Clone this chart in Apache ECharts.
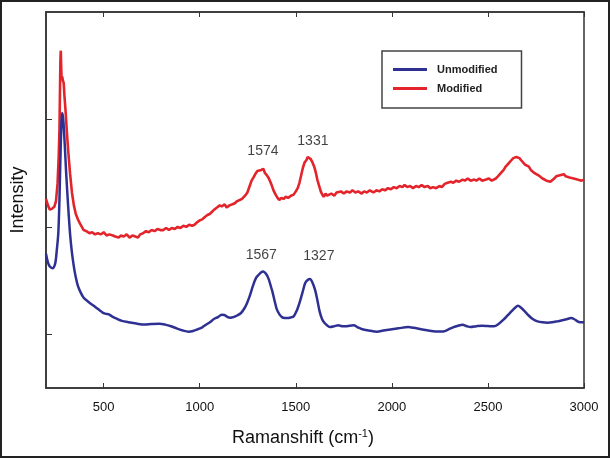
<!DOCTYPE html>
<html>
<head>
<meta charset="utf-8">
<script src="https://cdn.jsdelivr.net/npm/echarts@6/dist/echarts.min.js"></script>
<style>
html,body{margin:0;padding:0;background:#fff;}
#chart{width:610px;height:458px;}
</style>
</head>
<body>
<div id="chart"></div>
<script>
// ---- data (Raman shift in cm^-1, intensity in arbitrary units) ----
const xTicks = [500, 1000, 1500, 2000, 2500, 3000];
const yTicks = [0.5, 1.5, 2.5];
const seriesNames = ['Unmodified', 'Modified'];

const unmodified = [
[200,1.25],[210,1.17],[220,1.13],[234,1.115],[248,1.16],[256,1.28],[264,1.44],[270,1.75],[274,2.06],[279,2.40],
[283,2.56],[287,2.54],[291,2.47],[298,2.25],[305,2.00],[315,1.70],[325,1.44],[335,1.26],[345,1.13],[355,1.03],
[366,0.95],[380,0.89],[396,0.84],[415,0.81],[437,0.78],[452,0.76],[467,0.74],[482,0.72],[497,0.70],[512,0.69],
[527,0.685],[545,0.665],[568,0.645],[595,0.625],[629,0.612],[670,0.60],[710,0.59],[750,0.595],[790,0.598],[820,0.59],
[851,0.575],[880,0.555],[912,0.535],[942,0.524],[965,0.53],[993,0.549],[1013,0.565],[1033,0.589],[1055,0.615],[1074,0.642],
[1095,0.66],[1114,0.682],[1128,0.68],[1145,0.66],[1160,0.655],[1175,0.66],[1195,0.675],[1215,0.698],[1232,0.74],[1246,0.79],
[1261,0.86],[1276,0.946],[1292,1.02],[1307,1.054],[1320,1.078],[1331,1.085],[1344,1.065],[1357,1.023],[1368,0.96],[1378,0.899],
[1390,0.81],[1402,0.729],[1415,0.685],[1428,0.66],[1443,0.652],[1458,0.651],[1474,0.657],[1489,0.667],[1505,0.72],[1519,0.79],
[1535,0.89],[1549,0.977],[1562,1.005],[1574,1.014],[1587,0.98],[1600,0.915],[1612,0.82],[1624,0.713],[1637,0.64],[1650,0.605],
[1665,0.58],[1680,0.567],[1700,0.575],[1721,0.583],[1740,0.575],[1761,0.574],[1780,0.58],[1802,0.583],[1822,0.565],[1842,0.549],
[1880,0.535],[1923,0.524],[1955,0.535],[1984,0.543],[2035,0.556],[2085,0.567],[2115,0.56],[2146,0.549],[2190,0.535],[2227,0.527],
[2268,0.527],[2295,0.545],[2318,0.564],[2345,0.58],[2368,0.589],[2390,0.575],[2409,0.567],[2440,0.575],[2470,0.58],[2500,0.577],
[2531,0.574],[2555,0.595],[2581,0.636],[2602,0.675],[2622,0.713],[2640,0.745],[2656,0.766],[2674,0.745],[2692,0.713],[2712,0.675],
[2733,0.642],[2758,0.62],[2784,0.611],[2810,0.608],[2834,0.611],[2860,0.62],[2885,0.63],[2910,0.64],[2932,0.651],[2950,0.64],
[2966,0.62],[2980,0.612],[3000,0.611]
];

const modified = [
[200,1.76],[210,1.70],[220,1.66],[232,1.67],[244,1.69],[252,1.74],[260,1.90],[266,2.15],[270,2.40],[273,2.80],
[275,3.05],[277,3.14],[279,3.00],[281,2.88],[284,2.90],[288,2.86],[292,2.84],[296,2.72],[301,2.60],[308,2.40],
[315,2.22],[325,2.00],[335,1.82],[345,1.70],[355,1.62],[366,1.57],[380,1.52],[396,1.47],[410,1.46],[426,1.44],
[440,1.45],[455,1.43],[470,1.44],[487,1.43],[500,1.45],[515,1.42],[530,1.43],[548,1.42],[560,1.41],[578,1.40],
[590,1.42],[605,1.41],[620,1.43],[635,1.40],[650,1.42],[665,1.41],[679,1.40],[690,1.43],[705,1.44],[720,1.46],
[735,1.45],[750,1.47],[765,1.46],[780,1.48],[795,1.47],[811,1.47],[825,1.49],[840,1.47],[855,1.49],[870,1.48],
[885,1.50],[900,1.49],[915,1.51],[930,1.50],[945,1.52],[960,1.51],[973,1.52],[985,1.54],[1000,1.56],[1013,1.57],
[1025,1.59],[1040,1.61],[1052,1.62],[1064,1.64],[1075,1.66],[1090,1.68],[1104,1.70],[1115,1.69],[1130,1.71],[1140,1.68],
[1155,1.70],[1170,1.71],[1183,1.72],[1195,1.74],[1208,1.75],[1220,1.76],[1236,1.79],[1248,1.82],[1260,1.88],[1270,1.93],
[1280,1.96],[1292,2.00],[1300,2.02],[1310,2.01],[1320,2.03],[1331,2.04],[1340,2.00],[1350,1.98],[1360,1.95],[1372,1.90],
[1384,1.84],[1395,1.80],[1405,1.77],[1414,1.75],[1425,1.77],[1436,1.76],[1448,1.78],[1460,1.77],[1475,1.79],[1489,1.80],
[1500,1.83],[1510,1.86],[1519,1.91],[1528,1.98],[1537,2.05],[1546,2.10],[1555,2.12],[1562,2.15],[1570,2.16],[1578,2.13],
[1587,2.10],[1596,2.06],[1605,2.00],[1612,1.94],[1620,1.89],[1630,1.83],[1638,1.80],[1645,1.78],[1655,1.81],[1663,1.79],
[1671,1.80],[1685,1.81],[1700,1.79],[1712,1.82],[1721,1.81],[1735,1.83],[1750,1.81],[1765,1.83],[1782,1.82],[1795,1.84],
[1810,1.82],[1825,1.83],[1843,1.81],[1855,1.83],[1870,1.82],[1885,1.84],[1904,1.82],[1920,1.84],[1935,1.83],[1950,1.85],
[1964,1.84],[1980,1.86],[1995,1.85],[2010,1.87],[2025,1.86],[2040,1.88],[2055,1.87],[2066,1.89],[2080,1.87],[2095,1.88],
[2110,1.86],[2126,1.88],[2140,1.87],[2155,1.89],[2170,1.87],[2187,1.88],[2200,1.86],[2215,1.87],[2230,1.86],[2248,1.88],
[2260,1.87],[2275,1.90],[2290,1.91],[2308,1.92],[2320,1.91],[2335,1.93],[2350,1.92],[2368,1.94],[2380,1.93],[2395,1.95],
[2410,1.93],[2429,1.94],[2440,1.93],[2455,1.95],[2470,1.93],[2490,1.94],[2505,1.95],[2520,1.93],[2530,1.94],[2541,1.95],
[2552,1.97],[2562,1.99],[2571,2.00],[2582,2.03],[2592,2.06],[2602,2.08],[2612,2.10],[2622,2.12],[2632,2.14],[2640,2.13],
[2648,2.15],[2656,2.16],[2664,2.14],[2673,2.12],[2683,2.11],[2693,2.08],[2703,2.07],[2713,2.06],[2723,2.03],[2733,2.02],
[2743,2.00],[2753,2.01],[2763,1.98],[2773,1.97],[2784,1.95],[2794,1.96],[2805,1.93],[2815,1.94],[2825,1.92],[2834,1.93],
[2845,1.95],[2855,1.97],[2865,1.96],[2875,1.98],[2885,1.97],[2895,1.99],[2905,1.97],[2915,1.98],[2925,1.96],[2935,1.97],
[2946,1.95],[2956,1.96],[2966,1.94],[2976,1.95],[2987,1.93],[3000,1.94]
];

// peak annotations: [x, y, text]
const annotations = [
[1329, 2.207, '1574'],
[1589, 2.294, '1331'],
[1320, 1.24, '1567'],
[1620, 1.23, '1327']
];

const chart = echarts.init(document.getElementById('chart'), null, {renderer: 'canvas'});
const axisColor = '#333';
const font = 'Arial, "Liberation Sans", sans-serif';

const option = {
  backgroundColor: '#fff',
  animation: false,
  grid: {left: 46, right: 26, top: 12, bottom: 70, containLabel: false, outerBoundsMode: 'none',
    show: true, borderColor: axisColor, borderWidth: 1.5, backgroundColor: 'transparent'},
  legend: {
    data: seriesNames,
    orient: 'vertical',
    left: 382, top: 51,
    padding: [13, 24, 14, 11],
    itemGap: 8,
    itemWidth: 34, itemHeight: 3,
    icon: 'rect',
    borderColor: '#444', borderWidth: 1.5,
    textStyle: {fontFamily: font, fontWeight: 'bold', fontSize: 11, color: '#222', padding: [0, 0, 0, 5]}
  },
  xAxis: [{
    type: 'value', min: 200, max: 3000,
    name: '{a|Ramanshift (cm}{s|-1}{a|)}',
    nameLocation: 'middle', nameGap: 40,
    nameTextStyle: {padding: [0, 24, 0, 0], rich: {
      a: {fontFamily: font, fontSize: 18, color: '#111'},
      s: {fontFamily: font, fontSize: 11, color: '#111', padding: [0, 0, 10, 0]}
    }},
    axisLine: {show: true, lineStyle: {color: axisColor, width: 1.5}},
    axisTick: {show: true, inside: true, length: 5, customValues: xTicks, lineStyle: {color: axisColor}},
    axisLabel: {show: true, customValues: xTicks, margin: 13, fontFamily: font, fontSize: 13, color: '#111',
      formatter: v => String(v)},
    splitLine: {show: false}
  }, {
    type: 'value', min: 200, max: 3000, position: 'top',
    axisLine: {show: true, lineStyle: {color: axisColor, width: 1.5}},
    axisTick: {show: true, inside: true, length: 5, customValues: xTicks, lineStyle: {color: axisColor}},
    axisLabel: {show: false},
    splitLine: {show: false}
  }],
  yAxis: {
    type: 'value', min: 0, max: 3.5,
    name: 'Intensity', nameLocation: 'middle', nameGap: 19, nameRotate: 90,
    nameTextStyle: {fontFamily: font, fontSize: 18, color: '#111'},
    axisLine: {show: true, lineStyle: {color: axisColor, width: 1.5}},
    axisTick: {show: true, inside: true, length: 6, customValues: yTicks, lineStyle: {color: axisColor}},
    axisLabel: {show: false},
    splitLine: {show: false}
  },
  series: [{
    name: seriesNames[0], type: 'line', data: unmodified, showSymbol: false, symbol: 'none',
    smooth: 0.3, lineStyle: {color: '#2e3192', width: 2.5}, itemStyle: {color: '#2e3192'}, z: 3
  }, {
    name: seriesNames[1], type: 'line', data: modified, showSymbol: false, symbol: 'none',
    lineStyle: {color: '#e3242b', width: 2.6}, itemStyle: {color: '#e3242b'}, z: 2
  }, {
    name: 'annotations', type: 'scatter', data: annotations, symbolSize: 0, silent: true,
    label: {show: true, position: 'inside', formatter: p => p.value[2], fontFamily: font, fontSize: 14, color: '#111'}
  }],
  graphic: [{
    type: 'rect', shape: {x: 1, y: 1, width: 608, height: 456},
    style: {fill: null, stroke: '#222', lineWidth: 2}, silent: true
  }]
};
chart.setOption(option);
</script>
</body>
</html>
